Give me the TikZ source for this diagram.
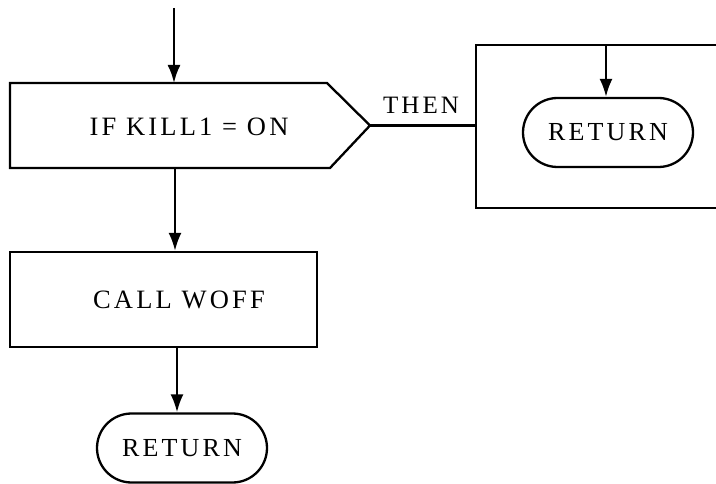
\documentclass[tikz,border=0pt]{standalone}
\usepackage{fontspec}
\setmainfont{Liberation Serif}[LetterSpace=12]
\usetikzlibrary{arrows.meta,shapes.misc}
\begin{document}
\begin{tikzpicture}[x=1pt,y=-1pt,line width=2.3pt,
  lbl/.style={font=\fontsize{26.5}{30}\selectfont,inner sep=0pt},
  arr/.style={-{Latex[length=18pt,width=13pt]}},
  term/.style={draw,rounded rectangle,minimum width=170pt,minimum height=69pt,inner sep=0pt,font=\fontsize{26}{30}\selectfont},
  procbox/.style={draw,rectangle,inner sep=0pt}]
\useasboundingbox (0,0) rectangle (716,484);
% IF decision shape
\draw (10,83) -- (327,83) -- (370,125.5) -- (330,168) -- (10,168) -- cycle;
\node[lbl] (iftext) at (189,127) {IF KILL1 = ON};
\coordinate (in) at (174,8);
\coordinate (ifN) at (174,83);
\coordinate (ifS) at (175,168);
\coordinate (ifE) at (370,125.5);
% THEN branch box (open to the right)
\draw (716,45) -- (476,45) -- (476,208) -- (716,208);
\coordinate (thenIn) at (476,125.5);
\coordinate (boxTop) at (606,45);
\node[lbl,font=\fontsize{25}{28}\selectfont] (then) at (421,105) {THEN};
\node[term] (ret1) at (608,132.5) {RETURN};
% CALL box
\node[procbox,minimum width=307pt,minimum height=95pt] (call) at (163.5,299.5) {};
\node[lbl] (calltext) at (179,300) {CALL WOFF};
\node[term] (ret2) at (182,448) {RETURN};
% connectors
\draw[arr] (in) -- (ifN);
\draw (ifE) -- (thenIn);
\draw[arr] (boxTop) -- (boxTop |- ret1.north);
\draw[arr] (ifS) -- (ifS |- call.north);
\draw[arr] (call.south -| 177,0) -- (177,0 |- ret2.north);
\end{tikzpicture}
\end{document}
